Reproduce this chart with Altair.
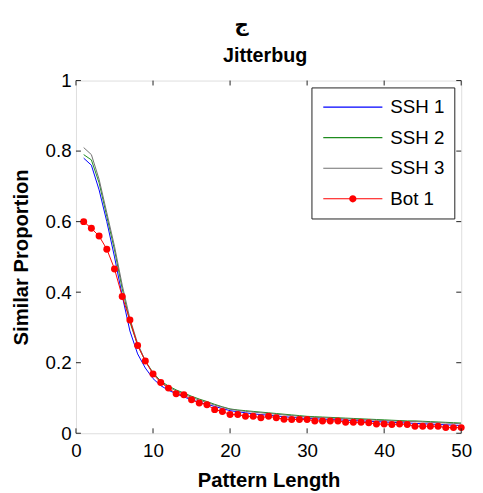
import altair as alt
import pandas as pd

x_vals = list(range(1, 51))
series_names = ["SSH 1", "SSH 2", "SSH 3", "Bot 1"]
series_colors = ["#0000ff", "#1e8c1e", "#707070", "#ff0000"]

ssh1 = [0.78, 0.76, 0.69, 0.60, 0.50, 0.39, 0.29, 0.225, 0.185, 0.155,
        0.135, 0.122, 0.112, 0.103, 0.095, 0.088, 0.082, 0.076, 0.070, 0.064,
        0.061, 0.058, 0.055, 0.053, 0.051, 0.049, 0.047, 0.045, 0.043, 0.042,
        0.041, 0.040, 0.039, 0.038, 0.037, 0.036, 0.035, 0.034, 0.033, 0.032,
        0.031, 0.030, 0.029, 0.028, 0.027, 0.026, 0.025, 0.024, 0.023, 0.022]
ssh2 = [0.79, 0.775, 0.71, 0.615, 0.52, 0.41, 0.315, 0.25, 0.205, 0.172,
        0.148, 0.134, 0.123, 0.114, 0.105, 0.097, 0.090, 0.082, 0.075, 0.069,
        0.066, 0.064, 0.062, 0.060, 0.058, 0.056, 0.054, 0.052, 0.050, 0.048,
        0.047, 0.046, 0.045, 0.044, 0.043, 0.042, 0.041, 0.040, 0.039, 0.038,
        0.037, 0.036, 0.035, 0.035, 0.034, 0.033, 0.032, 0.031, 0.030, 0.029]
ssh3 = [0.81, 0.79, 0.72, 0.625, 0.53, 0.42, 0.325, 0.255, 0.205, 0.170,
        0.146, 0.131, 0.120, 0.111, 0.102, 0.094, 0.087, 0.080, 0.074, 0.068,
        0.065, 0.062, 0.060, 0.058, 0.056, 0.054, 0.052, 0.050, 0.048, 0.046,
        0.045, 0.044, 0.043, 0.042, 0.041, 0.040, 0.039, 0.038, 0.037, 0.036,
        0.035, 0.034, 0.033, 0.033, 0.032, 0.031, 0.030, 0.029, 0.028, 0.027]
bot1 = [0.60, 0.581, 0.559, 0.522, 0.466, 0.388, 0.321, 0.249, 0.205, 0.168,
        0.144, 0.128, 0.112, 0.109, 0.095, 0.086, 0.081, 0.067, 0.062, 0.053,
        0.053, 0.048, 0.048, 0.044, 0.048, 0.044, 0.040, 0.039, 0.039, 0.039,
        0.035, 0.035, 0.035, 0.035, 0.031, 0.031, 0.031, 0.030, 0.026, 0.026,
        0.025, 0.026, 0.025, 0.020, 0.020, 0.020, 0.020, 0.016, 0.016, 0.016]

x_ticks = [0, 10, 20, 30, 40, 50]
y_ticks = [0, 0.2, 0.4, 0.6, 0.8, 1]
title_text = "Jitterbug"
panel_letter = "ج"

rows = []
for name, vals in zip(series_names, [ssh1, ssh2, ssh3, bot1]):
    for xv, yv in zip(x_vals, vals):
        rows.append({"x": xv, "y": yv, "series": name})
df = pd.DataFrame(rows)
xt_df = pd.DataFrame({"x": x_ticks})
yt_df = pd.DataFrame({"y": y_ticks})

FONT = "Liberation Sans"
AX = "#222222"
W, H = 391, 358
TICK = 5

xscale = alt.Scale(domain=[0, 50], nice=False)
yscale = alt.Scale(domain=[0, 1], nice=False)

x_axis = alt.Axis(values=x_ticks, title="Pattern Length", grid=False, domain=False,
                  ticks=False, tickSize=0, labelPadding=9, labelFontSize=19, labelFont=FONT,
                  labelColor="black", titleFont=FONT, titleFontSize=20.5,
                  titleFontWeight="bold", titleColor="black", titlePadding=10,
                  labelFlush=False)
y_axis = alt.Axis(values=y_ticks, title="Similar Proportion", grid=False, domain=False,
                  ticks=False, tickSize=0, labelPadding=5, labelFontSize=19, labelFont=FONT,
                  labelColor="black", titleFont=FONT, titleFontSize=20.5,
                  titleFontWeight="bold", titleColor="black", titlePadding=14,
                  labelFlush=False, format="~g")

# legend symbols (scaled by sqrt(size)/2 = 10px per unit): thin bar, and bar + dot
line_path = "M-0.8,-0.06H5.2V0.06H-0.8Z"
dot_path = ("M-0.8,-0.06H5.2V0.06H-0.8Z "
            "M2.57,0A0.37,0.37,0,1,1,1.83,0A0.37,0.37,0,1,1,2.57,0Z")

main_legend = alt.Legend(
    title=None, orient="top-right", offset=7,
    strokeColor=AX, padding=10, fillColor="white",
    symbolSize=400, symbolStrokeWidth=0, labelOffset=50,
    labelFont=FONT, labelFontSize=19, labelColor="black", rowPadding=11,
    labelExpr="datum.label + ' '",
)

# line colours use their own stroke scale (with one unused spare entry so that
# its legend is never merged with the visible colour/shape legend)
stroke_domain = series_names + ["_"]
stroke_range = series_colors + ["#000000"]

lines = alt.Chart(df).mark_line(strokeWidth=1, clip=True).encode(
    x=alt.X("x:Q", scale=xscale, axis=x_axis),
    y=alt.Y("y:Q", scale=yscale, axis=y_axis),
    stroke=alt.Stroke("series:N", scale=alt.Scale(domain=stroke_domain, range=stroke_range),
                      legend=None),
    order=alt.Order("x:Q"),
)

points = alt.Chart(df).transform_filter(alt.datum.series == "Bot 1").mark_point(
    filled=True, size=50, opacity=1, shape="circle", color="#ff0000"
).encode(
    x=alt.X("x:Q", scale=xscale, axis=x_axis),
    y=alt.Y("y:Q", scale=yscale, axis=y_axis),
)

legend_layer = alt.Chart(df).transform_filter("datum.x > 1000").mark_point(
    filled=True, opacity=1
).encode(
    color=alt.Color("series:N", scale=alt.Scale(domain=series_names, range=series_colors),
                    legend=main_legend),
    shape=alt.Shape("series:N",
                    scale=alt.Scale(domain=series_names,
                                    range=[line_path, line_path, line_path, dot_path]),
                    legend=main_legend),
)

tick_bottom = alt.Chart(xt_df).mark_rule(color=AX, strokeWidth=1).encode(
    x=alt.X("x:Q", scale=xscale, axis=x_axis), y=alt.value(H), y2=alt.value(H - TICK))
tick_top = alt.Chart(xt_df).mark_rule(color=AX, strokeWidth=1).encode(
    x=alt.X("x:Q", scale=xscale, axis=x_axis), y=alt.value(0), y2=alt.value(TICK))
tick_left = alt.Chart(yt_df).mark_rule(color=AX, strokeWidth=1).encode(
    y=alt.Y("y:Q", scale=yscale, axis=y_axis), x=alt.value(0), x2=alt.value(TICK))
tick_right = alt.Chart(yt_df).mark_rule(color=AX, strokeWidth=1).encode(
    y=alt.Y("y:Q", scale=yscale, axis=y_axis), x=alt.value(W), x2=alt.value(W - TICK))

jeem = alt.Chart(pd.DataFrame({"t": [panel_letter]})).mark_text(
    font="DejaVu Sans", fontSize=20, fontWeight="bold", color="black",
    align="center", baseline="alphabetic"
).encode(text="t:N", x=alt.value(168), y=alt.value(-50))

title = alt.Chart(pd.DataFrame({"t": [title_text]})).mark_text(
    font=FONT, fontSize=20, fontWeight="bold", color="black",
    align="center", baseline="alphabetic"
).encode(text="t:N", x=alt.value(192), y=alt.value(-19))

chart = alt.layer(
    lines, points, legend_layer, tick_bottom, tick_top, tick_left, tick_right, jeem, title
).properties(
    width=W, height=H,
    padding={"left": 69, "top": 70, "right": 14, "bottom": 57},
    autosize=alt.AutoSizeParams(type="none"),
).configure_view(stroke=AX, strokeWidth=1).configure(background="white")

chart.save("out.html", embed_options={"renderer": "svg", "actions": False})
